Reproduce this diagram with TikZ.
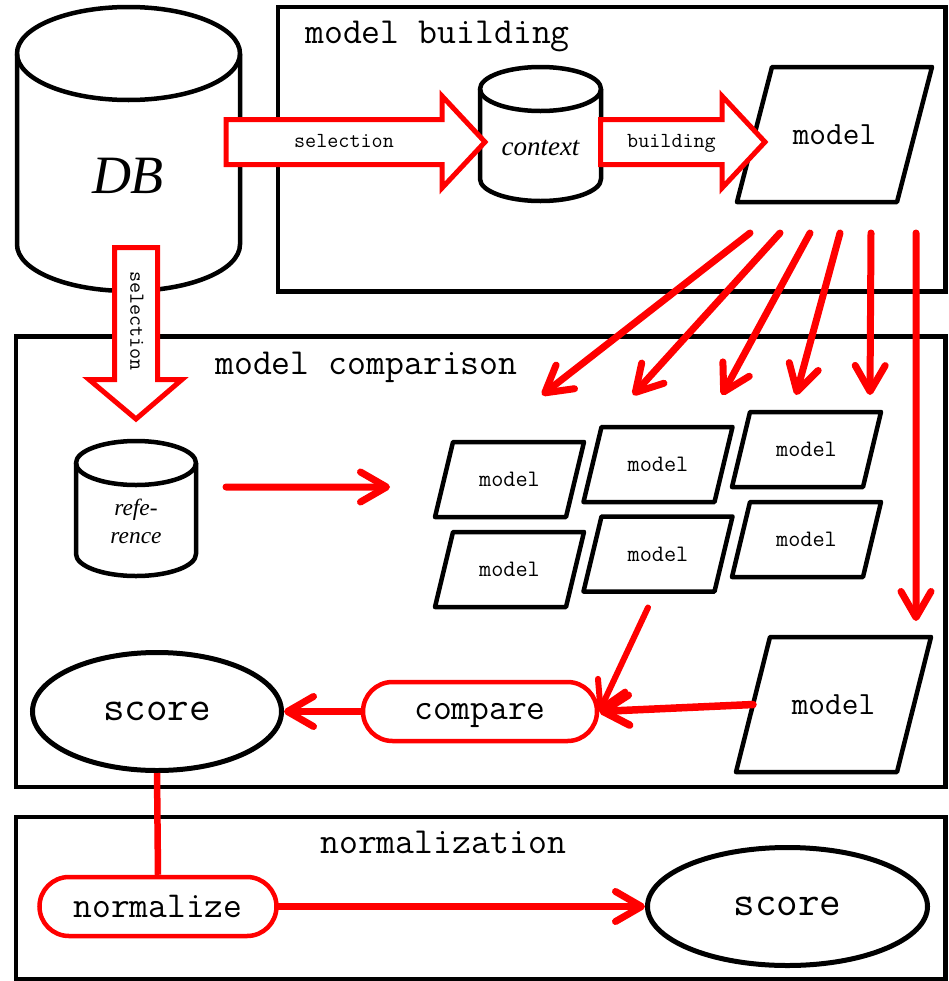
\documentclass[tikz,border=0pt]{standalone}
\usepackage{fontspec}
\newfontfamily\timesf{Liberation Serif}
\usetikzlibrary{arrows.meta,shapes.geometric,shapes.misc,calc}
\tikzset{
  boxline/.style={draw=black, line width=4.5bp},
  shapeline/.style={draw=black, line width=4.5bp, line join=round},
  redline/.style={draw=red, line width=7bp, line cap=round},
  redarrow/.style={redline, -{Straight Barb[length=26bp, width=30bp, line cap=round, line join=round]}},
  hollow/.style={draw=red, fill=white, line width=5bp, line join=miter},
  para/.style={inner sep=0pt, outer sep=0pt},
  titlefont/.style={font=\fontsize{36.7bp}{40bp}\selectfont\ttfamily},
  bigmodel/.style={para, minimum width=195bp, minimum height=135bp, font=\fontsize{32.4bp}{36bp}\selectfont\ttfamily},
  smallmodel/.style={para, minimum width=149bp, minimum height=75bp, font=\fontsize{23.6bp}{26bp}\selectfont\ttfamily},
  redpill/.style={rounded rectangle, draw=red, line width=4.5bp, minimum width=234bp, minimum height=59bp, inner sep=0pt, font=\fontsize{36.5bp}{40bp}\selectfont\ttfamily},
  scoreell/.style={ellipse, draw=black, line width=5bp, inner sep=0pt, font=\fontsize{41.9bp}{44bp}\selectfont\ttfamily},
  arrowtext/.style={font=\fontsize{21.5bp}{24bp}\selectfont\ttfamily, inner sep=0pt},
  cylbox/.style={inner sep=0pt, outer sep=0pt}
}
\newcommand\paraout[2]{\draw[shapeline] ([xshift=#2]#1.north west) -- (#1.north east) -- ([xshift=-#2]#1.south east) -- (#1.south west) -- cycle;}
% cx, ytop, ybot, rx, ry
\newcommand\drawcyl[5]{%
  \draw[shapeline] (#1-#4, #2+#5) -- (#1-#4, #3-#5) arc[start angle=180, end angle=360, x radius=#4bp, y radius=#5bp] -- (#1+#4, #2+#5);
  \draw[shapeline] (#1, #2+#5) ellipse [x radius=#4bp, y radius=#5bp];}
\begin{document}
\begin{tikzpicture}[x=1bp, y=-1bp]
\useasboundingbox (0,0) rectangle (949,981);
\fill[white] (0,0) rectangle (949,981);

% frames
\draw[boxline] (278,7) rectangle (945.5,291.5);
\draw[boxline] (16,336.5) rectangle (945.5,787);
\draw[boxline] (16,817) rectangle (945.5,979.5);
\node[titlefont, anchor=base west, inner sep=0pt] (t1) at (305,43) {model building};
\node[titlefont, anchor=base west, inner sep=0pt] (t2) at (215,374) {model comparison};
\node[titlefont, anchor=base west, inner sep=0pt] (t3) at (320,853) {normalization};

% cylinders
\node[cylbox, minimum width=223bp, minimum height=284bp] (db) at (128.5,149) {};
\drawcyl{128.5}{7}{291}{111.5}{46.5}
\node[font=\fontsize{54bp}{58bp}\selectfont\timesf\itshape, anchor=base, inner sep=0pt] (dbtext) at (128,193) {DB};

\node[cylbox, minimum width=121bp, minimum height=134bp] (ctx) at (540.5,134) {};
\drawcyl{540.5}{67}{201}{60.5}{22}
\node[font=\fontsize{27bp}{30bp}\selectfont\timesf\itshape, anchor=base, inner sep=0pt] (ctxtext) at (540.5,155) {context};

\node[cylbox, minimum width=120bp, minimum height=135bp] (ref) at (136,508.5) {};
\drawcyl{136}{441}{576}{60}{22}
\node[font=\fontsize{23.4bp}{28bp}\selectfont\timesf\itshape, align=center, inner sep=0pt] (reftext) at (136,521) {refe-\\rence};

% models
\node[bigmodel] (mtop) at (834.5,134.5) {model};
\paraout{mtop}{35bp}
\node[smallmodel] (g1) at (509.5,479.5) {model};
\paraout{g1}{18bp}
\node[smallmodel] (g2) at (658,464.5) {model};
\paraout{g2}{18bp}
\node[smallmodel] (g3) at (806.5,449.5) {model};
\paraout{g3}{18bp}
\node[smallmodel] (g4) at (509.5,569.5) {model};
\paraout{g4}{18bp}
\node[smallmodel] (g5) at (658,554) {model};
\paraout{g5}{18bp}
\node[smallmodel] (g6) at (806.5,539.5) {model};
\paraout{g6}{18bp}
\node[bigmodel] (m7) at (833.5,704.5) {model};
\paraout{m7}{34bp}

% score / compare / normalize
\node[scoreell, minimum width=249bp, minimum height=118bp] (score) at (157,711.5) {score};
\node[redpill, text depth=0pt] (cmp) at (480,711.5) {compare};
\node[redpill, minimum width=237bp] (norm) at (158,906.5) {normalize};
\node[scoreell, minimum width=280bp, minimum height=118bp] (score2) at (787.5,906.5) {score};

% free ends
\coordinate (f0) at (390,487);
\coordinate (f1) at (542,395);
\coordinate (f2) at (633,395);
\coordinate (f3) at (722,395);
\coordinate (f4) at (796,395);
\coordinate (f5) at (870,395);
\coordinate (f6) at (916,621);

% red arrows
\draw[redarrow] ([xshift=13bp,yshift=-31bp]mtop.south west) -- (f1);
\draw[redarrow] ([xshift=43bp,yshift=-31bp]mtop.south west) -- (f2);
\draw[redarrow] ([xshift=73bp,yshift=-31bp]mtop.south west) -- (f3);
\draw[redarrow] ([xshift=103bp,yshift=-31bp]mtop.south west) -- (f4);
\draw[redarrow] ([xshift=134bp,yshift=-31bp]mtop.south west) -- (f5);
\draw[redarrow] ([xshift=179bp,yshift=-31bp]mtop.south west) -- (f6);
\draw[redarrow] ([xshift=30bp,yshift=21.5bp]ref.east) -- (f0);
\draw[redarrow, line width=6bp] ([xshift=-10bp,yshift=-16bp]g5.south) -- (cmp.east);
\draw[redarrow, line width=7.5bp] ([xshift=17bp]m7.west) -- (cmp.east);
\draw[redarrow] (cmp.west) -- (score.east);
\draw[redline, line cap=butt, line width=6.5bp] (score.south) -- (norm.north);
\draw[redarrow] (norm.east) -- (score2.west);

% hollow arrows
\draw[hollow] (226,119.5) -- (442,119.5) -- (442,96) -- (485,142) -- (442,188) -- (442,164.5) -- (226,164.5) -- cycle;
\node[arrowtext, anchor=base] (sel1) at (344,147) {selection};
\draw[hollow] (600.5,119.5) -- (722,119.5) -- (722,96) -- (765,142) -- (722,188) -- (722,164.5) -- (600.5,164.5) -- cycle;
\node[arrowtext, anchor=base] (bld) at (671.5,147) {building};
\draw[hollow] (114.5,247.5) -- (114.5,379.5) -- (89,379.5) -- (136,419) -- (182,379.5) -- (157.5,379.5) -- (157.5,247.5) -- cycle;
\node[arrowtext, rotate=-90] (sel2) at (137,321) {selection};
\end{tikzpicture}
\end{document}
